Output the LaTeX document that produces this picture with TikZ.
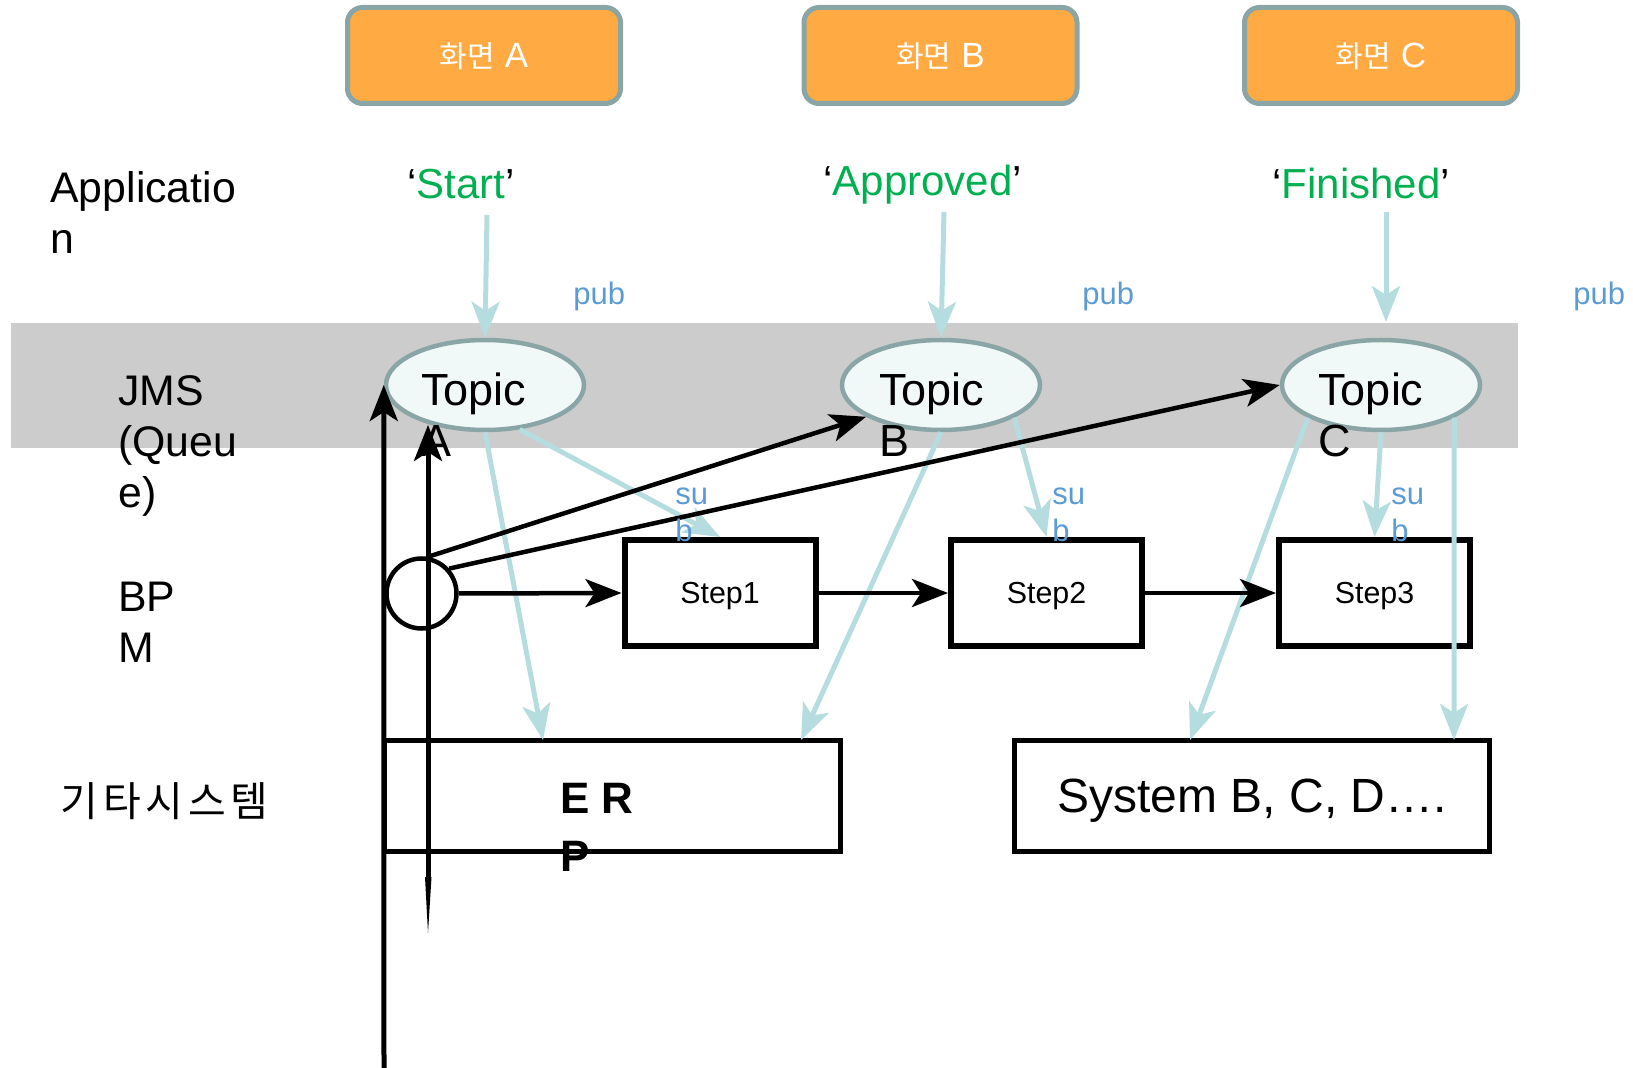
\documentclass[tikz,border=0pt]{standalone}
\usepackage{fontspec}
\setmainfont{Liberation Sans}
\newfontfamily\kr{Noto Sans CJK KR}
\newfontfamily\krwide[LetterSpace=12]{Noto Sans CJK KR}
\usetikzlibrary{arrows.meta,shapes.geometric}
\definecolor{orng}{RGB}{255,170,66}
\definecolor{boxedge}{RGB}{138,165,165}
\definecolor{topicfill}{RGB}{240,249,248}
\definecolor{bandgray}{RGB}{204,204,204}
\definecolor{lblue}{RGB}{181,221,224}
\definecolor{grn}{RGB}{0,176,80}
\definecolor{pubblue}{RGB}{91,155,213}
\tikzset{
  screen/.style={draw=boxedge, fill=orng, line width=2.5pt, rounded corners=7.5pt,
    minimum width=136.5pt, minimum height=48pt, inner sep=0pt, text=white, text depth=0pt,
    font=\fontsize{17.5}{20}\selectfont},
  topic/.style={ellipse, draw=boxedge, fill=topicfill, line width=2.25pt,
    minimum width=99pt, minimum height=45pt, inner sep=0pt},
  stepbox/.style={draw=black, line width=3pt, minimum width=95.5pt, minimum height=53pt,
    inner sep=0pt, text depth=0pt, font=\fontsize{15.2}{18}\selectfont},
  sysbox/.style={draw=black, line width=2.75pt, minimum height=55.5pt, inner sep=0pt, text depth=0pt},
  lbl/.style={inner sep=0pt, align=left, anchor=north west, font=\fontsize{21.4}{25.5}\selectfont},
  toplbl/.style={inner sep=0pt, align=left, anchor=north west, font=\fontsize{22.5}{25.5}\selectfont},
  pubtxt/.style={inner sep=0pt, anchor=base west, text=pubblue, font=\fontsize{15.5}{18.5}\selectfont},
  subtxt/.style={inner sep=0pt, anchor=north west, align=left, text=pubblue, font=\fontsize{15.5}{18.5}\selectfont},
  msg/.style={inner sep=0pt, anchor=base west, font=\fontsize{21}{25}\selectfont},
  blkarrow/.style={draw=black, line width=2.25pt, -{Stealth[length=18pt,width=14pt,inset=4.5pt]}},
  bluearrow/.style={draw=lblue, line width=2.5pt, -{Stealth[length=18pt,width=14pt,inset=4.5pt]}},
}
\begin{document}
\begin{tikzpicture}[x=0.5pt,y=-0.5pt]
\useasboundingbox (0,0) rectangle (1633,1068);
% JMS band
\fill[bandgray] (11,323) rectangle (1518,448);

% screens
\node[screen] (scrA) at (484,55.5) {{\kr\fontsize{15}{18}\selectfont 화면} A};
\node[screen] (scrB) at (940.5,55.5) {{\kr\fontsize{15}{18}\selectfont 화면} B};
\node[screen] (scrC) at (1381,55.5) {{\kr\fontsize{15}{18}\selectfont 화면} C};

% messages
\node[msg] (mStart) at (407,199) {‘\textcolor{grn}{Start}’};
\node[msg] (mAppr) at (823,196) {‘\textcolor{grn}{Approved}’};
\node[msg] (mFin) at (1272,199) {‘\textcolor{grn}{Finished}’};

% row labels
\node[lbl] (lApp) at (50,171) {Applicatio\\n};
\node[lbl] (lJms) at (118,375) {JMS\\(Queu\\e)};
\node[lbl] (lBpm) at (118,582) {BP\\M};
\node[inner sep=0pt, anchor=base west, font=\krwide\fontsize{20.5}{24}\selectfont] (lEtc) at (60,817) {기타시스템};

% pub labels
\node[pubtxt] (pubA) at (573,305) {pub};
\node[pubtxt] (pubB) at (1082,305) {pub};
\node[pubtxt] (pubC) at (1573,305) {pub};

% topics
\node[topic] (topicA) at (485,385) {};
\node[topic] (topicB) at (941,385) {};
\node[topic] (topicC) at (1381,385) {};

% steps and systems
\node[stepbox] (step1) at (720,593) {Step1};
\node[stepbox] (step2) at (1046.5,593) {Step2};
\node[stepbox] (step3) at (1374.5,593) {Step3};
\node[sysbox, minimum width=228pt] (erp) at (612.5,796) {};
\node[sysbox, minimum width=237.5pt, font=\fontsize{24}{28}\selectfont] (sys) at (1252,796) {System B, C, D….};
\node[circle, draw=black, line width=2.25pt, minimum size=35pt, inner sep=0pt] (circ) at (421.5,593.5) {};

% coordinates
\coordinate (sA) at (487,215);
\coordinate (sB) at (944,212);
\coordinate (sC) at (1386,212);
\coordinate (fC) at (1386,322);
\coordinate (erpA) at (543,740);
\coordinate (erpB) at (801,740);
\coordinate (sysL) at (1190,740);
\coordinate (sysR) at (1454,740);
\coordinate (v1) at (384,1068);
\coordinate (v2) at (428,877);
\coordinate (v2top) at (428,425);

% light blue pub/sub connectors
\draw[bluearrow] (sA) -- (topicA.north);
\draw[bluearrow] (sB) -- (topicB.north);
\draw[bluearrow] (sC) -- (fC);
\draw[bluearrow] (topicA.-52) -- (step1.north);
\draw[bluearrow] (topicA.south) -- (erpA);
\draw[bluearrow] (topicB.south) -- (erpB);
\draw[bluearrow] (topicB.-24) -- (step2.north);
\draw[bluearrow] (topicC.south) -- (step3.north);
\draw[bluearrow] (topicC.204) -- (sysL);
\draw[bluearrow] (topicC.-24) -- (sysR);

% black connectors
\draw[blkarrow] (circ.80) -- (topicB.203);
\draw[blkarrow] (circ.42) -- (topicC.west);
\draw[blkarrow] (circ.east) -- (step1.west);
\draw[blkarrow] (step1.east) -- (step2.west);
\draw[blkarrow] (step2.east) -- (step3.west);
\draw[blkarrow, line width=2.5pt] (v1) -- (topicA.west);
\draw[blkarrow, line width=2.5pt] (v2) -- (v2top);
\fill[black] (425,877) -- (431.5,877) -- (428,933) -- cycle;

% topic labels
\node[toplbl] (tA) at (421,372) {Topic\\A};
\node[toplbl] (tB) at (879,372) {Topic\\B};
\node[toplbl] (tC) at (1318,372) {Topic\\C};

% sub labels
\node[subtxt] (subA) at (675,487) {su\\b};
\node[subtxt] (subB) at (1052,487) {su\\b};
\node[subtxt] (subC) at (1391,487) {su\\b};

% ERP text
\node[lbl, font=\bfseries\fontsize{22}{29}\selectfont] (erpT) at (560,783) {E R\\P};
\end{tikzpicture}
\end{document}
